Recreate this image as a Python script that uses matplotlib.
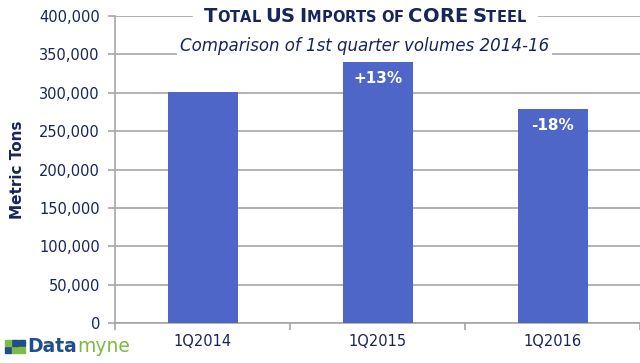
import matplotlib.pyplot as plt
from matplotlib.offsetbox import TextArea, HPacker, AnchoredOffsetbox
from matplotlib.ticker import FuncFormatter, FixedLocator

quarters = ["1Q2014", "1Q2015", "1Q2016"]
tons = [301000, 340000, 278500]
changes = ["", "+13%", "-18%"]

navy = "#16255C"
bar_color = "#4F66C9"
grid_color = "#A6A6A6"

fig = plt.figure(figsize=(6.4, 3.63), dpi=100)
ax = fig.add_axes([0.18, 0.11, 0.82, 0.846])

x = list(range(len(quarters)))
ax.bar(x, tons, width=0.4, color=bar_color, zorder=3)
ax.set_xlim(-0.5, 2.5)
ax.set_ylim(0, 400000)
ax.yaxis.set_major_locator(FixedLocator(range(0, 400001, 50000)))
ax.yaxis.set_major_formatter(FuncFormatter(lambda v, p: f"{int(v):,}"))
ax.grid(axis="y", color=grid_color, linewidth=1.2, zorder=0)
ax.set_xticks(x)
ax.set_xticklabels(quarters)
ax.set_xticks([-0.5, 0.5, 1.5, 2.5], minor=True)
ax.tick_params(axis="x", which="major", length=0, pad=8, labelsize=10.5, labelcolor=navy)
ax.tick_params(axis="x", which="minor", length=5, color=grid_color, width=1.2)
ax.tick_params(axis="y", length=5, color=grid_color, width=1.2, pad=6, labelsize=10.5, labelcolor=navy)
for s in ["top", "right"]:
    ax.spines[s].set_visible(False)
for s in ["left", "bottom"]:
    ax.spines[s].set_color(grid_color)
    ax.spines[s].set_linewidth(1.2)
ax.set_ylabel("Metric Tons", color=navy, fontsize=11, fontweight="bold", labelpad=10)

# percent change labels inside bars
for xi, v, c in zip(x, tons, changes):
    if c:
        ax.text(xi, v - 12000, c, ha="center", va="top", color="white",
                fontsize=11, fontweight="bold", zorder=4)

# title in small caps, built from pieces
def small_caps(text, big, small):
    parts = []
    for word in text.split(" "):
        for ch in word:
            size = big if (ch.isupper() or ch.isdigit()) else small
            parts.append(TextArea(ch.upper(), textprops=dict(
                fontsize=size, fontweight="bold", color=navy)))
        parts.append(TextArea(" ", textprops=dict(fontsize=small)))
    return HPacker(children=parts[:-1], align="baseline", pad=0, sep=0)

title = small_caps("Total US Imports of CORE Steel", 14, 10.5)
box = AnchoredOffsetbox(loc="center", child=title, bbox_to_anchor=(0.57, 0.955),
                        bbox_transform=fig.transFigure, frameon=True, pad=0.8, borderpad=0)
box.patch.set_facecolor("white")
box.patch.set_edgecolor("white")
box.set_zorder(5)
fig.add_artist(box)

fig.text(0.57, 0.873, "Comparison of 1st quarter volumes 2014-16", ha="center", va="center",
         fontsize=12, style="italic", color=navy, zorder=5,
         bbox=dict(facecolor="white", edgecolor="none", pad=2))

# Datamyne logo
logo = HPacker(children=[
    TextArea("Data", textprops=dict(fontsize=13.5, fontweight="bold", color="#1F4E8C")),
    TextArea("myne", textprops=dict(fontsize=13.5, color="#7DBB42")),
], align="baseline", pad=0, sep=0)
lbox = AnchoredOffsetbox(loc="center left", child=logo, bbox_to_anchor=(0.043, 0.045),
                         bbox_transform=fig.transFigure, frameon=False, pad=0, borderpad=0)
fig.add_artist(lbox)
for dx, dy, col in [(0, 0, "#1F4E8C"), (0.011, 0, "#7DBB42"), (0.011, 0.02, "#1F4E8C"),
                    (0.022, 0.02, "#1F4E8C"), (0, 0.02, "#7DBB42"), (0.022, 0, "#7DBB42")]:
    fig.patches.append(plt.Rectangle((0.008 + dx, 0.028 + dy), 0.009, 0.016,
                                     transform=fig.transFigure, color=col))

fig.savefig("out.png", dpi=100)
